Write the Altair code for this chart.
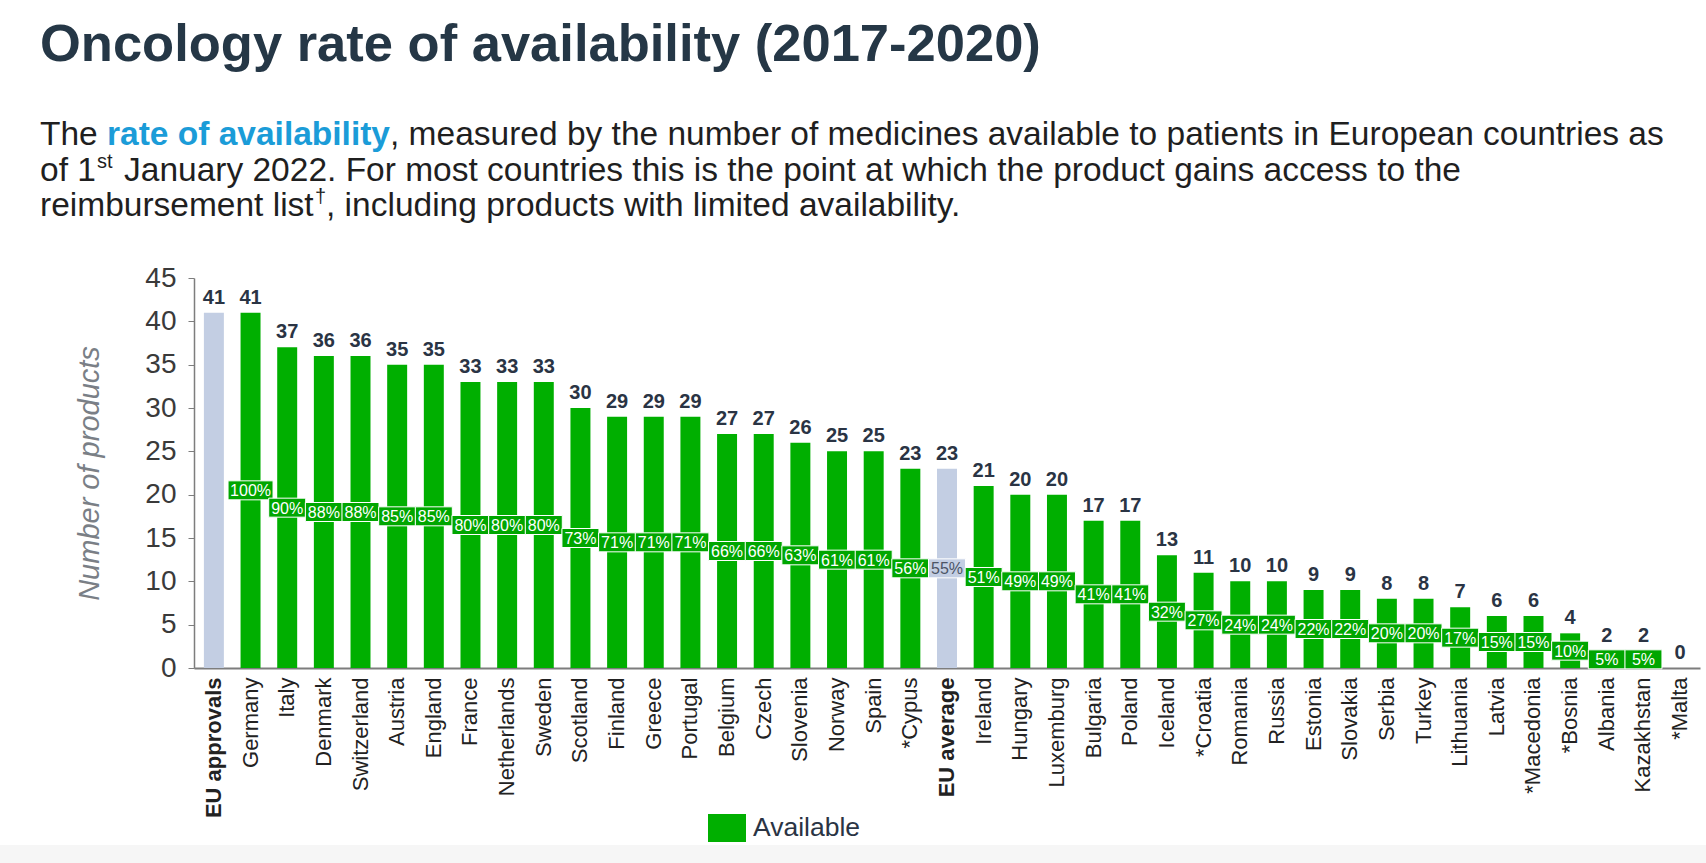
import altair as alt
import pandas as pd

# ---- data -------------------------------------------------------------
countries = [
    "EU approvals", "Germany", "Italy", "Denmark", "Switzerland", "Austria",
    "England", "France", "Netherlands", "Sweden", "Scotland", "Finland",
    "Greece", "Portugal", "Belgium", "Czech", "Slovenia", "Norway", "Spain",
    "*Cypus", "EU average", "Ireland", "Hungary", "Luxemburg", "Bulgaria",
    "Poland", "Iceland", "*Croatia", "Romania", "Russia", "Estonia",
    "Slovakia", "Serbia", "Turkey", "Lithuania", "Latvia", "*Macedonia",
    "*Bosnia", "Albania", "Kazakhstan", "*Malta",
]
products = [
    41, 41, 37, 36, 36, 35, 35, 33, 33, 33, 30, 29, 29, 29, 27, 27, 26, 25, 25,
    23, 23, 21, 20, 20, 17, 17, 13, 11, 10, 10, 9, 9, 8, 8, 7, 6, 6, 4, 2, 2, 0,
]
availability_pct = [
    None, 100, 90, 88, 88, 85, 85, 80, 80, 80, 73, 71, 71, 71, 66, 66, 63, 61,
    61, 56, 55, 51, 49, 49, 41, 41, 32, 27, 24, 24, 22, 22, 20, 20, 17, 15, 15,
    10, 5, 5, None,
]
benchmarks = ["EU approvals", "EU average"]
y_ticks = [0, 5, 10, 15, 20, 25, 30, 35, 40, 45]

TITLE = "Oncology rate of availability (2017-2020)"
SUB_LINE1 = ["The", "rate of availability",
             ", measured by the number of medicines available to patients in European countries as"]
SUB_LINE2 = ["of 1", "st", "January 2022. For most countries this is the point at which the product gains access to the"]
SUB_LINE3 = ["reimbursement list", "\u2020", ", including products with limited availability."]

# ---- styling ----------------------------------------------------------
GREEN = "#00AF00"
BOX_GREEN = "#00A600"
GREY_BLUE = "#C3CEE3"
DARK = "#2A3444"
AXIS_GREY = "#7D7D7D"
FONT = "Liberation Sans"

# plot-area origin inside the 1706 x 863 canvas
OX, OY = 194, 278
W, H = 1506, 390

df = pd.DataFrame({
    "country": countries,
    "value": products,
    "pct": availability_pct,
})
df["kind"] = ["Reference" if c in benchmarks else "Available" for c in countries]

base = alt.Chart(df)

x_enc = alt.X(
    "country:N",
    sort=countries,
    scale=alt.Scale(paddingInner=0.455, paddingOuter=0.27),
    axis=alt.Axis(
        title=None,
        labelAngle=-90,
        labelFont=FONT,
        labelFontSize=22,
        labelColor="#222222",
        labelPadding=9,
        labelLimit=300,
        ticks=False,
        domainColor=AXIS_GREY,
        domainWidth=2,
        labelFontWeight={
            "condition": {"test": "datum.value == 'EU approvals' || datum.value == 'EU average'",
                          "value": "bold"},
            "value": "normal",
        },
    ),
)

y_scale = alt.Scale(domain=[0, 45], nice=False)

bars = base.mark_bar().encode(
    x=x_enc,
    y=alt.Y(
        "value:Q",
        scale=y_scale,
        axis=alt.Axis(
            values=y_ticks,
            title="Number of products",
            titleFont=FONT,
            titleFontSize=29,
            titleFontStyle="italic",
            titleFontWeight="normal",
            titleColor="#7A7F86",
            titleX=89 - OX,
            titleY=H / 2,
            titleAngle=270,
            titleAlign="center",
            titleBaseline="middle",
            labelFont=FONT,
            labelFontSize=28,
            labelColor="#3A3A3A",
            labelPadding=12,
            tickSize=6,
            tickColor=AXIS_GREY,
            domainColor=AXIS_GREY,
            domainWidth=1.5,
            grid=False,
        ),
    ),
    color=alt.Color(
        "kind:N",
        scale=alt.Scale(domain=["Available", "Reference"], range=[GREEN, GREY_BLUE]),
        legend=alt.Legend(
            orient="none",
            legendX=708 - OX,
            legendY=809 - OY,
            title=None,
            values=["Available"],
            symbolType="M-1,-0.737H1V0.737H-1Z",
            symbolSize=1444,
            symbolStrokeWidth=0,
            symbolOpacity=1,
            labelFont=FONT,
            labelFontSize=26.5,
            labelColor=DARK,
            labelOffset=7,
            padding=0,
        ),
    ),
)

# product counts above each bar
value_labels = base.mark_text(
    baseline="alphabetic", dy=-9, font=FONT, fontSize=20, fontWeight="bold", color=DARK
).encode(
    x=alt.X("country:N", sort=countries),
    y=alt.Y("value:Q", scale=y_scale),
    text=alt.Text("value:Q"),
)

# availability rate boxes at mid-height of each bar
pct_base = base.transform_filter("isValid(datum.pct)").transform_calculate(
    mid="datum.value / 2", pct_label="datum.pct + '%'"
)
is_avail = "datum.kind == 'Available'"

pct_boxes = pct_base.mark_tick(
    orient="horizontal", thickness=19, stroke="white", strokeWidth=1, opacity=1
).encode(
    x=alt.X("country:N", sort=countries),
    y=alt.Y("mid:Q", scale=y_scale),
    size=alt.condition("datum.pct >= 100", alt.value(45), alt.value(37)),
    color=alt.condition(is_avail, alt.value(BOX_GREEN), alt.value(GREY_BLUE)),
)

pct_text = pct_base.mark_text(
    baseline="middle", align="center", dy=1, font=FONT, fontSize=16
).encode(
    x=alt.X("country:N", sort=countries),
    y=alt.Y("mid:Q", scale=y_scale),
    text="pct_label:N",
    color=alt.condition(is_avail, alt.value("white"), alt.value("#4C5466")),
)

# ---- heading text -----------------------------------------------------
one = pd.DataFrame({"k": [0]})


def label(text, px, py, size, color="#1F1F1F", weight="normal"):
    return alt.Chart(one).mark_text(
        text=text, align="left", baseline="alphabetic",
        font=FONT, fontSize=size, fontWeight=weight, color=color,
    ).encode(x=alt.value(px - OX), y=alt.value(py - OY))


BLUE = "#1B9CD8"
SUB = 33.5
heading = [
    label(TITLE, 40, 61, 52.5, color="#253746", weight="bold"),
    label(SUB_LINE1[0], 40, 145, SUB),
    label(SUB_LINE1[1], 107, 145, SUB, color=BLUE, weight="bold"),
    label(SUB_LINE1[2], 390, 145, SUB),
    label(SUB_LINE2[0], 40, 181, SUB),
    label(SUB_LINE2[1], 97, 168, 20),
    label(SUB_LINE2[2], 124, 181, SUB),
    label(SUB_LINE3[0], 40, 216, SUB),
    label(SUB_LINE3[1], 315, 203, 20),
    label(SUB_LINE3[2], 326, 216, SUB),
]

# faint grey footer strip along the bottom edge
footer = alt.Chart(one).mark_rect(color="#F6F6F6").encode(
    x=alt.value(-OX), x2=alt.value(1706 - OX),
    y=alt.value(845 - OY), y2=alt.value(863 - OY),
)

chart = alt.layer(
    footer, bars, pct_boxes, pct_text, value_labels, *heading
).properties(
    width=W,
    height=H,
    padding={"left": OX, "top": OY, "right": 1706 - OX - W, "bottom": 863 - OY - H},
    autosize="none",
    background="white",
).configure_view(stroke=None)

chart.save("out.html", embed_options={"renderer": "svg", "actions": False})
